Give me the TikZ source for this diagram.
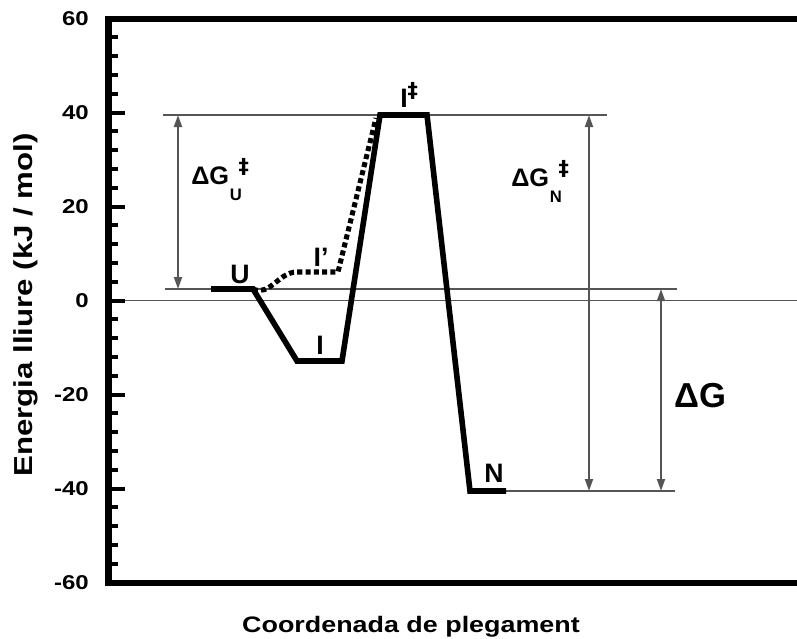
\documentclass[tikz,border=0pt]{standalone}
\usepackage{fontspec}
\setmainfont{Liberation Sans}
\newfontfamily\dagfont{DejaVu Sans}
\usetikzlibrary{arrows.meta}
\definecolor{guide}{HTML}{555555}
\newcommand{\mydag}[1]{\raisebox{#1}{\dagfont\bfseries\fontsize{15.5}{15.5}\selectfont ‡}}
\tikzset{
  frame/.style={line width=5pt, line join=miter},
  tickmark/.style={line width=3pt},
  curve/.style={line width=4.2pt, line join=miter},
  dotcurve/.style={line width=3.8pt, dash pattern=on 3.8pt off 2.4pt},
  guideline/.style={draw=guide, line width=1.4pt},
  dim/.style={draw=guide, line width=1.4pt, {Triangle[length=9pt,width=6pt,fill=guide]}-{Triangle[length=9pt,width=6pt,fill=guide]}},
  ticklab/.style={anchor=east, inner sep=0pt, font=\fontsize{15}{15}\selectfont\bfseries},
  lvl/.style={anchor=base, inner sep=0pt, font=\fontsize{20}{20}\selectfont\bfseries},
  dlab/.style={anchor=base west, inner sep=0pt, font=\fontsize{19}{19}\selectfont\bfseries},
  axlab/.style={inner sep=0pt, font=\fontsize{16.8}{16.8}\selectfont\bfseries}
}
\begin{document}
\begin{tikzpicture}[x=0.75pt,y=-0.75pt]
\useasboundingbox (0,0) rectangle (797,639);
% frame
\draw[frame] (797,19) -- (108.5,19) -- (108.5,583) -- (797,583);
% ticks
\foreach \v in {-56,-52,...,56}{
  \pgfmathtruncatemacro{\r}{mod(abs(\v),20)}
  \ifnum\r=0
    \draw[tickmark] (110,{300.5-4.7*\v}) -- (125,{300.5-4.7*\v});
  \else
    \draw[tickmark] (110,{300.5-4.7*\v}) -- (118,{300.5-4.7*\v});
  \fi
}
\foreach \v in {60,40,20,0,-20,-40,-60}{
  \node[ticklab] at (89,{300.5-4.7*\v}) {\scalebox{1.2}[1]{\v}};
}
% axis labels
\node[axlab, anchor=base] (xl) at (411,632) {\scalebox{1.2}[1]{Coordenada de plegament}};
\node[axlab, anchor=base, rotate=90, font=\fontsize{19.5}{19.5}\selectfont\bfseries] (yl) at (32,305) {\scalebox{1.2}[1]{Energia lliure (kJ / mol)}};
% reference levels
\coordinate (tsL) at (163,115);  \coordinate (tsR) at (607,115);
\coordinate (uL) at (165,289);   \coordinate (uR) at (677,289);
\coordinate (zL) at (125,300.5); \coordinate (zR) at (797,300.5);
\coordinate (nL) at (506,491);   \coordinate (nR) at (675,491);
\draw[guideline] (tsL) -- (tsR);
\draw[guideline] (uL) -- (uR);
\draw[guideline] (zL) -- (zR);
\draw[guideline] (nL) -- (nR);
% dimension arrows
\coordinate (a1t) at (178,115); \coordinate (a1b) at (178,289);
\coordinate (a2t) at (589,115); \coordinate (a2b) at (589,491);
\coordinate (a3t) at (661,289); \coordinate (a3b) at (661,491);
\draw[dim] (a1t) -- (a1b);
\draw[dim] (a2t) -- (a2b);
\draw[dim] (a3t) -- (a3b);
% energy profile
\coordinate (U1) at (211,289); \coordinate (U2) at (253,289);
\coordinate (I1) at (297,361); \coordinate (I2) at (342,361);
\coordinate (T1) at (380,115); \coordinate (T2) at (427,115);
\coordinate (N1) at (470,491); \coordinate (N2) at (506,491);
\coordinate (P0) at (297,272); \coordinate (P1) at (338,272); \coordinate (P2) at (376,118);
\draw[curve] (U1) -- (U2) -- (I1) -- (I2) -- (T1) -- (T2) -- (N1) -- (N2);
\draw[dotcurve] (U2) to[out=-25,in=180] (P0) -- (P1) -- (P2);
% labels
\node[lvl] (lU) at (240,283) {U};
\node[lvl] (lI) at (320,354) {I};
\node[lvl] (lIp) at (321,266) {I’};
\node[lvl, anchor=base west] (lT) at (400,107) {I\hspace{0pt}\mydag{7pt}};
\node[lvl] (lN) at (494,482) {N};
\node[dlab] (dGU) at (191,184) {ΔG\hspace{0.5pt}\raisebox{-12pt}{\fontsize{12.5}{12.5}\selectfont U}\hspace{-2.5pt}\mydag{8pt}};
\node[dlab] (dGN) at (511,186) {ΔG\hspace{0.5pt}\raisebox{-12pt}{\fontsize{12.5}{12.5}\selectfont N}\hspace{-2.5pt}\mydag{8pt}};
\node[dlab, font=\fontsize{26}{26}\selectfont\bfseries] (dG) at (674,407) {ΔG};
\end{tikzpicture}
\end{document}
